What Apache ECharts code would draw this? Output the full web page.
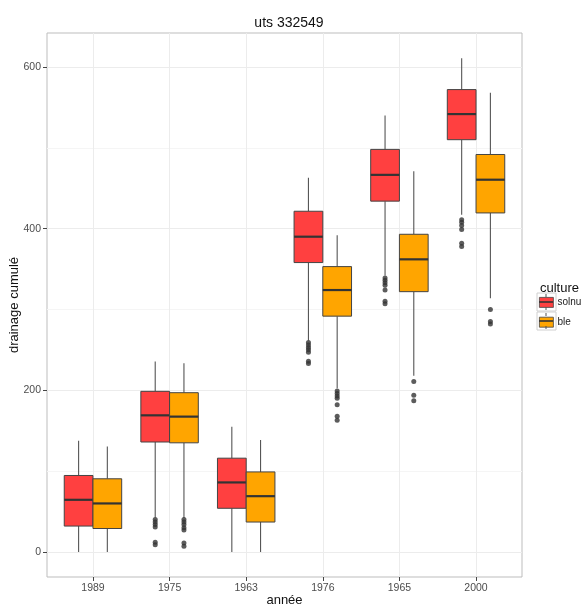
<!DOCTYPE html>
<html>
<head>
<meta charset="utf-8">
<script src="https://cdn.jsdelivr.net/npm/echarts@6/dist/echarts.min.js"></script>
<style>html,body{margin:0;padding:0;background:#fff;}#chart{width:583px;height:605px;}</style>
</head>
<body>
<div id="chart"></div>
<script>
// ---- data ----
const categories = ['1989', '1975', '1963', '1976', '1965', '2000'];
const seriesNames = ['solnu', 'ble'];
// [lower whisker, Q1, median, Q3, upper whisker] per category
const solnuStats = [
  [0, 32, 64.5, 94.6, 137.6],
  [42.5, 136, 169, 198.7, 235.5],
  [0, 54, 86, 116, 155],
  [261.5, 358, 390, 421.5, 463],
  [342, 434, 466.5, 498, 540],
  [417, 510, 541.7, 572, 610.7]
];
const bleStats = [
  [0, 29, 60, 90.5, 130.5],
  [42, 135, 167.4, 197, 233.4],
  [0, 37, 69, 99, 138.5],
  [202.5, 291.7, 324, 353, 391.7],
  [218, 322, 362, 393, 471],
  [314, 419.4, 460.5, 491.7, 568]
];
// outliers per category
const solnuOutliers = [
  [],
  [40, 37, 34, 31, 12, 9],
  [],
  [259, 256, 253, 250, 247, 236, 233],
  [339, 336, 333, 330, 324, 310, 307],
  [411, 408, 404, 399, 382, 378]
];
const bleOutliers = [
  [],
  [40, 37, 34, 30, 27, 11, 7],
  [],
  [199, 196, 193, 190, 182, 168, 163],
  [211, 194, 187],
  [300, 285, 282]
];
const yTicks = [0, 200, 400, 600];
const yMinorTicks = [100, 300, 500];

// ---- styling / layout ----
const colors = ['#FF4040', '#FFA500'];
const offsets = [-0.1875, 0.1875];
const BOX_W = 0.375;
const FONT = 'Liberation Sans, Arial, sans-serif';

function makeRender(offset, color) {
  return function (params, api) {
    const x = api.value(0) + offset;
    const lo = api.coord([x, api.value(1)]);
    const q1 = api.coord([x, api.value(2)]);
    const md = api.coord([x, api.value(3)]);
    const q3 = api.coord([x, api.value(4)]);
    const hi = api.coord([x, api.value(5)]);
    const w = api.size([BOX_W, 0])[0];
    const left = md[0] - w / 2;
    return {
      type: 'group',
      children: [
        { type: 'line', shape: { x1: lo[0], y1: lo[1], x2: q1[0], y2: q1[1] }, style: { stroke: '#555', lineWidth: 1.1 } },
        { type: 'line', shape: { x1: q3[0], y1: q3[1], x2: hi[0], y2: hi[1] }, style: { stroke: '#555', lineWidth: 1.1 } },
        { type: 'rect', shape: { x: left, y: q3[1], width: w, height: q1[1] - q3[1] }, style: { fill: color, stroke: '#444', lineWidth: 1 } },
        { type: 'line', shape: { x1: left, y1: md[1], x2: left + w, y2: md[1] }, style: { stroke: '#333', lineWidth: 2.2 } }
      ]
    };
  };
}

function boxData(stats) {
  return categories.map((c, i) => [i].concat(stats[i]));
}
function outlierData(outs, offset) {
  const res = [];
  outs.forEach((arr, i) => arr.forEach(v => res.push([i + offset, v])));
  return res;
}

const chart = echarts.init(document.getElementById('chart'), null, { renderer: 'canvas' });
const option = {
  animation: false,
  backgroundColor: '#fff',
  title: [
    { text: 'uts 332549', left: 284, top: 11, textAlign: 'center',
      textStyle: { fontFamily: FONT, fontSize: 14, fontWeight: 'normal', color: '#111' } },
    { text: 'culture', left: 535, top: 277,
      textStyle: { fontFamily: FONT, fontSize: 13, fontWeight: 'normal', color: '#111' } }
  ],
  grid: { left: 47, top: 33, right: 61, bottom: 28, show: true, borderColor: '#bdbdbd', borderWidth: 1, backgroundColor: '#fff', containLabel: false, outerBoundsMode: 'none' },
  legend: {
    orient: 'vertical', left: 539, top: 297, padding: 0,
    itemWidth: 14, itemHeight: 10, itemGap: 9, icon: 'rect',
    data: seriesNames,
    itemStyle: { borderColor: '#444', borderWidth: 0.8 },
    textStyle: { fontFamily: FONT, fontSize: 10, color: '#222', lineHeight: 10, padding: [0, 0, 0, -1] }
  },
  xAxis: {
    type: 'value', min: -0.6, max: 5.6,
    name: 'année', nameLocation: 'middle', nameGap: 17, nameMoveOverlap: false,
    nameTextStyle: { fontFamily: FONT, fontSize: 13, color: '#111' },
    axisLine: { show: false, onZero: false },
    axisTick: { show: true, length: 4, lineStyle: { color: '#444' }, customValues: [0, 1, 2, 3, 4, 5] },
    axisLabel: { customValues: [0, 1, 2, 3, 4, 5], formatter: v => categories[v], fontFamily: FONT, fontSize: 10.5, color: '#4d4d4d', margin: 6 },
    splitLine: { show: true, lineStyle: { color: '#ececec', width: 1 } }
  },
  yAxis: [
    {
      type: 'value', min: -31, max: 642,
      name: 'drainage cumulé', nameLocation: 'middle', nameGap: 26, nameMoveOverlap: false,
      nameTextStyle: { fontFamily: FONT, fontSize: 13, color: '#111' },
      axisLine: { show: false, onZero: false },
      axisTick: { show: true, length: 4, lineStyle: { color: '#444' }, customValues: yTicks },
      axisLabel: { customValues: yTicks, fontFamily: FONT, fontSize: 10.5, color: '#4d4d4d', margin: 6 },
      splitLine: { show: true, lineStyle: { color: '#ececec', width: 1 } }
    },
    {
      type: 'value', min: -31, max: 642, position: 'left',
      axisLine: { show: false, onZero: false },
      axisTick: { show: false, customValues: yMinorTicks },
      axisLabel: { show: false, customValues: yMinorTicks },
      splitLine: { show: true, lineStyle: { color: '#f5f5f5', width: 1 } }
    }
  ],
  graphic: [
    { type: 'rect', shape: { x: 537, y: 293, width: 19, height: 18 }, style: { fill: 'none', stroke: '#d0d0d0', lineWidth: 1 }, z: 100 },
    { type: 'rect', shape: { x: 537, y: 312, width: 19, height: 18 }, style: { fill: 'none', stroke: '#d0d0d0', lineWidth: 1 }, z: 100 },
    { type: 'line', shape: { x1: 546, y1: 294, x2: 546, y2: 297 }, style: { stroke: '#555', lineWidth: 1 }, z: 100 },
    { type: 'line', shape: { x1: 546, y1: 307, x2: 546, y2: 310 }, style: { stroke: '#555', lineWidth: 1 }, z: 100 },
    { type: 'line', shape: { x1: 539, y1: 302, x2: 553, y2: 302 }, style: { stroke: '#333', lineWidth: 1.6 }, z: 100 },
    { type: 'line', shape: { x1: 546, y1: 313, x2: 546, y2: 316 }, style: { stroke: '#555', lineWidth: 1 }, z: 100 },
    { type: 'line', shape: { x1: 546, y1: 326, x2: 546, y2: 329 }, style: { stroke: '#555', lineWidth: 1 }, z: 100 },
    { type: 'line', shape: { x1: 539, y1: 321, x2: 553, y2: 321 }, style: { stroke: '#333', lineWidth: 1.6 }, z: 100 }
  ],
  series: [
    { name: seriesNames[0], type: 'custom', renderItem: makeRender(offsets[0], colors[0]),
      itemStyle: { color: colors[0] }, encode: { x: 0, y: [1, 2, 3, 4, 5] }, data: boxData(solnuStats), z: 3 },
    { name: seriesNames[1], type: 'custom', renderItem: makeRender(offsets[1], colors[1]),
      itemStyle: { color: colors[1] }, encode: { x: 0, y: [1, 2, 3, 4, 5] }, data: boxData(bleStats), z: 3 },
    { type: 'scatter', symbolSize: 5, itemStyle: { color: '#333' }, data: outlierData(solnuOutliers, offsets[0]), z: 4, silent: true },
    { type: 'scatter', symbolSize: 5, itemStyle: { color: '#333' }, data: outlierData(bleOutliers, offsets[1]), z: 4, silent: true }
  ]
};
chart.setOption(option);
</script>
</body>
</html>
